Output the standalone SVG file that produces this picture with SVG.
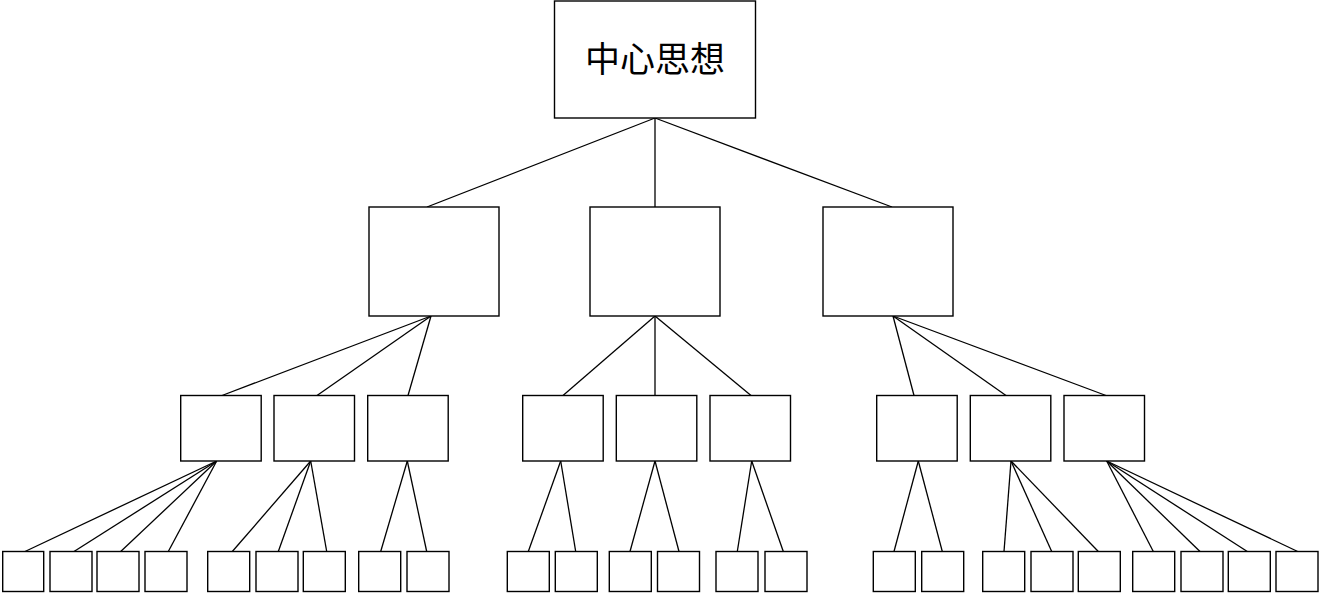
<svg xmlns="http://www.w3.org/2000/svg" width="1320" height="593" viewBox="0 0 1320 593">
<style>
rect{fill:#fff;stroke:#000;stroke-width:1.4}
.c line{stroke:#000;stroke-width:1.3}
text{font-family:"Noto Sans CJK SC","Noto Sans",sans-serif;font-size:35px;fill:#000}
</style>
<rect x="0" y="0" width="1320" height="593" style="stroke:none"/>
<g class="c" id="connectors">
<line x1="655" y1="118" x2="427" y2="207"/>
<line x1="655" y1="118" x2="655" y2="207"/>
<line x1="655" y1="118" x2="892" y2="207"/>
<line x1="431" y1="316" x2="222" y2="395.5"/>
<line x1="431" y1="316" x2="317" y2="395.5"/>
<line x1="431" y1="316" x2="408" y2="395.5"/>
<line x1="655" y1="316" x2="563" y2="395.5"/>
<line x1="655" y1="316" x2="655" y2="395.5"/>
<line x1="655" y1="316" x2="751" y2="395.5"/>
<line x1="893" y1="316" x2="914" y2="395.5"/>
<line x1="893" y1="316" x2="1006" y2="395.5"/>
<line x1="893" y1="316" x2="1106" y2="395.5"/>
<line x1="216.7" y1="461" x2="25" y2="551.5"/>
<line x1="216.7" y1="461" x2="74" y2="551.5"/>
<line x1="216.7" y1="461" x2="120.7" y2="551.5"/>
<line x1="216.7" y1="461" x2="168.3" y2="551.5"/>
<line x1="310.7" y1="461" x2="232.3" y2="551.5"/>
<line x1="310.7" y1="461" x2="278.3" y2="551.5"/>
<line x1="310.7" y1="461" x2="326.7" y2="551.5"/>
<line x1="407.3" y1="461" x2="380.7" y2="551.5"/>
<line x1="407.3" y1="461" x2="426.7" y2="551.5"/>
<line x1="560.7" y1="461" x2="528.3" y2="551.5"/>
<line x1="560.7" y1="461" x2="575.7" y2="551.5"/>
<line x1="655" y1="461" x2="630" y2="551.5"/>
<line x1="655" y1="461" x2="679" y2="551.5"/>
<line x1="751.7" y1="461" x2="737.3" y2="551.5"/>
<line x1="751.7" y1="461" x2="783.3" y2="551.5"/>
<line x1="918.3" y1="461" x2="894" y2="551.5"/>
<line x1="918.3" y1="461" x2="942.3" y2="551.5"/>
<line x1="1011" y1="461" x2="1004" y2="551.5"/>
<line x1="1011" y1="461" x2="1051.7" y2="551.5"/>
<line x1="1011" y1="461" x2="1098.3" y2="551.5"/>
<line x1="1106.7" y1="461" x2="1153.3" y2="551.5"/>
<line x1="1106.7" y1="461" x2="1200" y2="551.5"/>
<line x1="1106.7" y1="461" x2="1247.3" y2="551.5"/>
<line x1="1106.7" y1="461" x2="1297.7" y2="551.5"/>
</g>
<g id="root"><rect x="554.5" y="1" width="201" height="117"/><text x="655" y="72" text-anchor="middle">中心思想</text></g>
<g id="n1"><rect x="369" y="207" width="130" height="109"/></g>
<g id="n2"><rect x="590" y="207" width="130" height="109"/></g>
<g id="n3"><rect x="823" y="207" width="130" height="109"/></g>
<g id="n1a"><rect x="180.7" y="395.5" width="80.5" height="65.5"/></g>
<g id="n1b"><rect x="274" y="395.5" width="80.5" height="65.5"/></g>
<g id="n1c"><rect x="367.7" y="395.5" width="80.5" height="65.5"/></g>
<g id="n2a"><rect x="522.7" y="395.5" width="80.5" height="65.5"/></g>
<g id="n2b"><rect x="616.3" y="395.5" width="80.5" height="65.5"/></g>
<g id="n2c"><rect x="710" y="395.5" width="80.5" height="65.5"/></g>
<g id="n3a"><rect x="876.7" y="395.5" width="80.5" height="65.5"/></g>
<g id="n3b"><rect x="970.3" y="395.5" width="80.5" height="65.5"/></g>
<g id="n3c"><rect x="1064" y="395.5" width="80.5" height="65.5"/></g>
<g id="l1"><rect x="2.7" y="551.5" width="41" height="40"/></g>
<g id="l2"><rect x="50" y="551.5" width="42" height="40"/></g>
<g id="l3"><rect x="97" y="551.5" width="42" height="40"/></g>
<g id="l4"><rect x="145" y="551.5" width="42" height="40"/></g>
<g id="l5"><rect x="207.7" y="551.5" width="42" height="40"/></g>
<g id="l6"><rect x="256" y="551.5" width="42" height="40"/></g>
<g id="l7"><rect x="303.3" y="551.5" width="42" height="40"/></g>
<g id="l8"><rect x="358.7" y="551.5" width="42" height="40"/></g>
<g id="l9"><rect x="407" y="551.5" width="42" height="40"/></g>
<g id="l10"><rect x="507.3" y="551.5" width="42" height="40"/></g>
<g id="l11"><rect x="555.3" y="551.5" width="42" height="40"/></g>
<g id="l12"><rect x="609.3" y="551.5" width="42" height="40"/></g>
<g id="l13"><rect x="657.5" y="551.5" width="42" height="40"/></g>
<g id="l14"><rect x="716" y="551.5" width="42" height="40"/></g>
<g id="l15"><rect x="765" y="551.5" width="42" height="40"/></g>
<g id="l16"><rect x="873.3" y="551.5" width="42" height="40"/></g>
<g id="l17"><rect x="921.7" y="551.5" width="42" height="40"/></g>
<g id="l18"><rect x="982.7" y="551.5" width="42" height="40"/></g>
<g id="l19"><rect x="1031" y="551.5" width="42" height="40"/></g>
<g id="l20"><rect x="1078.3" y="551.5" width="42" height="40"/></g>
<g id="l21"><rect x="1132.7" y="551.5" width="42" height="40"/></g>
<g id="l22"><rect x="1181" y="551.5" width="42" height="40"/></g>
<g id="l23"><rect x="1228.3" y="551.5" width="42" height="40"/></g>
<g id="l24"><rect x="1276" y="551.5" width="42" height="40"/></g>
</svg>
